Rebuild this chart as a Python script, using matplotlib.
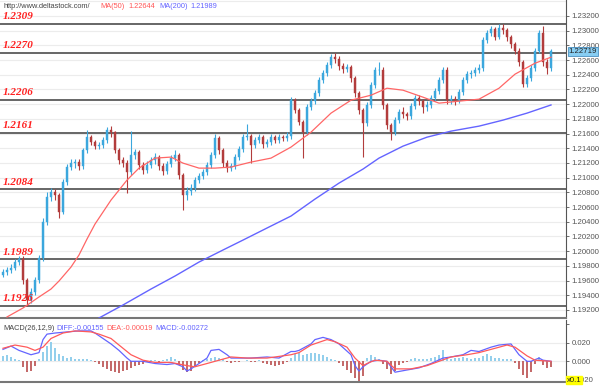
import numpy as np
import matplotlib
matplotlib.use("Agg")
import matplotlib.pyplot as plt

# candle closes / highs / lows (EUR/USD style quotes)
closes = [1.1972, 1.1974, 1.1977, 1.1985, 1.1990, 1.1961, 1.1934, 1.1945, 1.1961, 1.1991,
          1.2040, 1.2074, 1.2080, 1.2076, 1.2053, 1.2094, 1.2114, 1.2120, 1.2121, 1.2116,
          1.2137, 1.2155, 1.2148, 1.2143, 1.2144, 1.2151, 1.2165, 1.2162, 1.2137, 1.2124,
          1.2120, 1.2108, 1.2131, 1.2135, 1.2117, 1.2110, 1.2117, 1.2124, 1.2128, 1.2116,
          1.2109, 1.2118, 1.2127, 1.2131, 1.2103, 1.2076, 1.2082, 1.2086, 1.2097, 1.2102,
          1.2108, 1.2117, 1.2131, 1.2154, 1.2137, 1.2120, 1.2113, 1.2116, 1.2128, 1.2139,
          1.2155, 1.2157, 1.2144, 1.2151, 1.2155, 1.2146, 1.2148, 1.2155, 1.2151, 1.2155,
          1.2154, 1.2157, 1.2205, 1.2192, 1.2176, 1.2162, 1.2196, 1.2204, 1.2215, 1.2233,
          1.2242, 1.2253, 1.2264, 1.2262, 1.2252, 1.2248, 1.2250, 1.2235, 1.2215, 1.2192,
          1.2174, 1.2199, 1.2226, 1.2246, 1.2246, 1.2199, 1.2171, 1.2162, 1.2178, 1.2189,
          1.2186, 1.2184, 1.2197, 1.2208, 1.2204, 1.2196, 1.2199, 1.2208, 1.2218, 1.2233,
          1.2246, 1.2205, 1.2207, 1.2205, 1.2216, 1.2233, 1.2241, 1.2242, 1.2246, 1.2249,
          1.2287, 1.2297, 1.2302, 1.2292, 1.2303, 1.2301, 1.2291, 1.2282, 1.2273, 1.2257,
          1.2227, 1.2235, 1.2249, 1.2273, 1.2297, 1.2257, 1.2249, 1.22719]
highs = [1.1976, 1.1979, 1.1982, 1.1989, 1.1994, 1.1993, 1.1964, 1.1950, 1.1965, 1.1995,
         1.2045, 1.2080, 1.2086, 1.2085, 1.2079, 1.2098, 1.2118, 1.2125, 1.2126, 1.2125,
         1.2141, 1.2165, 1.2158, 1.2151, 1.2149, 1.2155, 1.2169, 1.2170, 1.2164, 1.2140,
         1.2128, 1.2124, 1.2164, 1.2139, 1.2138, 1.2121, 1.2122, 1.2128, 1.2133, 1.2131,
         1.2120, 1.2122, 1.2131, 1.2138, 1.2134, 1.2106, 1.2087, 1.2091, 1.2101, 1.2106,
         1.2112, 1.2121, 1.2135, 1.2160, 1.2157, 1.2140, 1.2124, 1.2120, 1.2132, 1.2143,
         1.2159, 1.2173, 1.2160, 1.2155, 1.2159, 1.2158, 1.2152, 1.2160, 1.2158, 1.2159,
         1.2158, 1.2162, 1.2210, 1.2208, 1.2195, 1.2179, 1.2200, 1.2208, 1.2219, 1.2237,
         1.2246, 1.2257, 1.2268, 1.2270, 1.2265, 1.2256, 1.2254, 1.2253, 1.2238, 1.2218,
         1.2195, 1.2203, 1.2230, 1.2250, 1.2258, 1.2250, 1.2202, 1.2175, 1.2182, 1.2193,
         1.2196, 1.2190, 1.2201, 1.2213, 1.2212, 1.2207, 1.2204, 1.2212, 1.2222, 1.2237,
         1.2250, 1.2250, 1.2212, 1.2211, 1.2220, 1.2237, 1.2245, 1.2247, 1.2250, 1.2254,
         1.2291, 1.2301, 1.2306, 1.2305, 1.2309, 1.2309, 1.2304, 1.2294, 1.2285, 1.2276,
         1.2260, 1.2239, 1.2253, 1.2277, 1.2301, 1.2307, 1.2261, 1.2275]
lows = [1.1965, 1.1968, 1.1970, 1.1974, 1.1981, 1.1956, 1.1926, 1.1929, 1.1941, 1.1957,
        1.1987, 1.2036, 1.2068, 1.2070, 1.2045, 1.2050, 1.2090, 1.2110, 1.2113, 1.2110,
        1.2112, 1.2133, 1.2144, 1.2139, 1.2139, 1.2140, 1.2147, 1.2156, 1.2133, 1.2119,
        1.2114, 1.2079, 1.2104, 1.2125, 1.2112, 1.2105, 1.2106, 1.2113, 1.2119, 1.2111,
        1.2104, 1.2105, 1.2114, 1.2123, 1.2098, 1.2056, 1.2070, 1.2077, 1.2082, 1.2093,
        1.2098, 1.2104, 1.2113, 1.2127, 1.2132, 1.2115, 1.2108, 1.2109, 1.2112, 1.2124,
        1.2135, 1.2151, 1.2120, 1.2140, 1.2147, 1.2141, 1.2142, 1.2144, 1.2147, 1.2147,
        1.2150, 1.2150, 1.2153, 1.2188, 1.2171, 1.2127, 1.2158, 1.2192, 1.2200, 1.2211,
        1.2229, 1.2238, 1.2249, 1.2256, 1.2247, 1.2243, 1.2244, 1.2230, 1.2210, 1.2187,
        1.2128, 1.2170, 1.2195, 1.2222, 1.2240, 1.2194, 1.2166, 1.2151, 1.2158, 1.2174,
        1.2181, 1.2178, 1.2180, 1.2193, 1.2199, 1.2188, 1.2191, 1.2195, 1.2204, 1.2214,
        1.2229, 1.2200, 1.2200, 1.2199, 1.2201, 1.2212, 1.2229, 1.2236, 1.2238, 1.2242,
        1.2245, 1.2283, 1.2293, 1.2287, 1.2288, 1.2296, 1.2286, 1.2277, 1.2268, 1.2252,
        1.2224, 1.2223, 1.2231, 1.2245, 1.2269, 1.2252, 1.2241, 1.2245]
first_open = 1.1968

# moving averages, read at selected candles
ma50_idx = [1, 5, 9, 12, 14, 17, 19, 21, 23, 25, 27, 29, 31, 34, 38, 42, 45, 49, 53, 57,
            62, 67, 72, 77, 82, 87, 92, 96, 100, 105, 109, 114, 119, 124, 128, 133, 137]
ma50 = [1.19105, 1.19227, 1.19377, 1.19485, 1.19594, 1.19784, 1.19948, 1.20165, 1.20369,
        1.20532, 1.20695, 1.20831, 1.20967, 1.21130, 1.21266, 1.21280, 1.21198, 1.21130,
        1.21130, 1.21144, 1.21212, 1.21266, 1.21416, 1.21619, 1.21878, 1.22054, 1.22122,
        1.22217, 1.22190, 1.22095, 1.22014, 1.22041, 1.22068, 1.22217, 1.22408, 1.22557,
        1.22639]
ma200_idx = [24, 30, 37, 43, 49, 55, 60, 66, 72, 78, 84, 90, 94, 100, 106, 112, 119, 125,
             131, 137]
ma200 = [1.19091, 1.19268, 1.19485, 1.19662, 1.19852, 1.20016, 1.20151, 1.20315, 1.20478,
         1.20709, 1.20926, 1.21117, 1.21266, 1.21429, 1.21551, 1.21633, 1.21701, 1.21783,
         1.21878, 1.21989]

levels = [1.2309, 1.2270, 1.2206, 1.2161, 1.2084, 1.1989, 1.1926]

# MACD panel
hist = [0.006, 0.007, 0.005, 0.003, 0.001, -0.006, -0.012, -0.010, -0.005, 0.002,
        0.010, 0.017, 0.021, 0.014, 0.008, 0.006, 0.004, 0.005, 0.003, 0.003,
        0.002, 0.002, 0.001, -0.001, -0.003, -0.006, -0.008, -0.010, -0.012, -0.013,
        -0.011, -0.009, -0.007, -0.005, -0.004, -0.003, -0.001, 0.001, 0.001, -0.001,
        0.001, 0.003, 0.005, 0.003, -0.004, -0.009, -0.012, -0.010, -0.006, -0.002,
        0.001, 0.003, 0.004, 0.005, 0.004, 0.002, -0.001, -0.002, -0.001, -0.001,
        0.0005, 0.001, -0.001, -0.001, 0.001, -0.002, -0.003, -0.004, -0.005, -0.004,
        -0.003, -0.001, 0.004, 0.008, 0.009, 0.007, 0.008, 0.009, 0.009, 0.008,
        0.007, 0.005, 0.003, 0.001, -0.002, -0.005, -0.009, -0.013, -0.018, -0.022,
        -0.016, 0.004, 0.007, 0.005, 0.002, -0.003, -0.008, -0.014, -0.010, -0.004,
        -0.002, -0.001, 0.002, 0.004, 0.003, 0.002, 0.003, 0.004, 0.005, 0.007,
        0.012, 0.004, 0.003, 0.004, 0.004, 0.005, 0.004, 0.003, 0.004, 0.004,
        0.006, 0.008, 0.006, 0.004, 0.004, 0.003, 0.003, 0.002, -0.002, -0.008,
        -0.015, -0.018, -0.012, -0.003, 0.005, -0.004, -0.007, -0.006]
diff_idx = [0, 2, 4, 7, 9, 10, 11, 13, 16, 19, 22, 23, 25, 27, 29, 31, 32, 35, 38, 41,
            43, 45, 46, 47, 49, 51, 52, 54, 56, 57, 60, 62, 66, 69, 72, 73, 74, 77, 78, 80,
            82, 84, 87, 88, 89, 90, 92, 94, 96, 97, 98, 101, 104, 107, 110, 112, 115, 117,
            119, 122, 124, 127, 129, 131, 132, 134, 135, 137]
diff = [0.0129, 0.0165, 0.0118, 0.0071, 0.0094, 0.0235, 0.0294, 0.0306, 0.0318, 0.0329,
        0.0329, 0.0306, 0.0247, 0.0188, 0.0118, 0.0035, 0.0, 0.0, -0.0024, -0.0035,
        -0.0024, -0.0059, -0.0106, -0.0082, -0.0024, 0.0035, 0.0118, 0.0129, 0.0071, 0.0035,
        0.0035, 0.0035, 0.0047, 0.0035, 0.0106, 0.0106, 0.0118, 0.0188, 0.0235, 0.0259,
        0.0235, 0.0188, 0.0071, -0.0047, -0.0106, -0.0059, 0.0, 0.0012, 0.0, -0.0059,
        -0.0118, -0.0094, -0.0071, -0.0024, 0.0035, 0.0047, 0.0071, 0.0118, 0.0106, 0.0153,
        0.0176, 0.0188, 0.0071, 0.0, 0.0, 0.0035, 0.0012, 0.0]
dea_idx = [0, 3, 6, 8, 10, 12, 15, 18, 22, 24, 27, 29, 32, 35, 38, 42, 46, 48, 51, 54,
           57, 61, 66, 70, 72, 74, 77, 81, 83, 86, 88, 90, 91, 93, 96, 98, 102, 106, 109,
           112, 116, 119, 122, 126, 128, 131, 133, 137]
dea = [0.0141, 0.0176, 0.0153, 0.0118, 0.0153, 0.0247, 0.0306, 0.0329, 0.0318, 0.0294,
       0.0247, 0.0176, 0.0071, 0.0012, -0.0012, -0.0012, -0.0047, -0.0059, -0.0024, 0.0012,
       0.0047, 0.0035, 0.0035, 0.0059, 0.0071, 0.0094, 0.0176, 0.0235, 0.0212, 0.0153,
       0.0035, -0.0047, -0.0024, 0.0012, 0.0, -0.0082, -0.0082, -0.0047, 0.0,
       0.0047, 0.0071, 0.0094, 0.0129, 0.0176, 0.0153, 0.0059, 0.0012, 0.0]

UP = "#3ba7dd"
DOWN = "#b23c3c"
GRID = "#ececec"
AXC = "#555555"
FONT = "Liberation Sans"

n = len(closes)
x = np.arange(n)
opens = [first_open] + closes[:-1]

fig = plt.figure(figsize=(6, 3.9), dpi=100)
W, H = 600.0, 390.0

ax = fig.add_axes([0, 1 - 318 / H, 566 / W, 318 / H])
mx = fig.add_axes([0, 1 - 382 / H, 566 / W, 62 / H])

# --- price chart
for lv in np.arange(1.188, 1.236, 0.002):
    ax.axhline(lv, color=GRID, lw=0.8, zorder=0)

for i in range(n):
    c = UP if closes[i] >= opens[i] else DOWN
    ax.vlines(x[i], lows[i], highs[i], color=c, lw=0.8, zorder=2)
    lo, hi = min(opens[i], closes[i]), max(opens[i], closes[i])
    ax.bar(x[i], max(hi - lo, 0.00004), bottom=lo, width=0.6, color=c,
           edgecolor=c, linewidth=0.3, zorder=3)

ax.plot(ma50_idx, ma50, color="#ff6666", lw=0.9, zorder=4)
ax.plot(ma200_idx, ma200, color="#6464ff", lw=1.0, zorder=4)

for lv in levels:
    ax.axhline(lv, color="#5a5a5a", lw=1.3, zorder=1)
    ax.text(0.004, lv + 0.00035, "%.4f" % lv, transform=ax.get_yaxis_transform(),
            color="#ff2020", fontsize=8, fontweight="bold", fontstyle="italic",
            family="Liberation Serif", va="bottom", ha="left", zorder=5)

ax.set_xlim(-0.75, 140.75)
ax.set_ylim(1.19091, 1.23417)
ax.set_xticks([])
ax.yaxis.tick_right()
ticks = np.arange(1.192, 1.2321, 0.002)
ax.set_yticks(ticks)
ax.set_yticklabels(["%.5f" % v for v in ticks], family=FONT)
ax.tick_params(axis="y", colors=AXC, labelsize=5.6, length=2.5, width=0.6, pad=1.5)
for s in ["top", "left"]:
    ax.spines[s].set_visible(False)
ax.spines["right"].set_color(AXC)
ax.spines["bottom"].set_color("#777777")
ax.spines["bottom"].set_linewidth(1.5)

# current price box
ax.annotate("1.22719", xy=(1.0, closes[-1]), xycoords=ax.get_yaxis_transform(),
            xytext=(2, 0), textcoords="offset points", fontsize=5.6, color="#222222",
            family=FONT, va="center", ha="left", annotation_clip=False,
            bbox=dict(boxstyle="square,pad=0.15", fc="#87cdf2", ec="#4a90c0", lw=0.6))

# --- MACD panel
mx.axhline(0.0, color=GRID, lw=0.8, zorder=0)
mx.axhline(0.02, color=GRID, lw=0.8, zorder=0)
hcol = ["#93cfec" if h >= 0 else "#c46a6a" for h in hist]
mx.bar(x, hist, width=0.35, color=hcol, zorder=2)
mx.plot(diff_idx, diff, color="#6464ff", lw=0.9, zorder=3)
mx.plot(dea_idx, dea, color="#ff5a5a", lw=0.9, zorder=3)
mx.set_xlim(-0.75, 140.75)
mx.set_ylim(-0.0224, 0.0447)
mx.set_xticks([])
mx.yaxis.tick_right()
mx.set_yticks([-0.02, 0.0, 0.02, 0.04])
mx.set_yticklabels(["-0.020", "0.000", "0.020", ""], family=FONT)
mx.tick_params(axis="y", colors=AXC, labelsize=5.6, length=2.5, width=0.6, pad=1.5)
for s in ["top", "left"]:
    mx.spines[s].set_visible(False)
mx.spines["right"].set_color(AXC)
mx.spines["bottom"].set_color("#777777")
mx.spines["bottom"].set_linewidth(1.5)

# yellow scale box over the lowest MACD label
fig.text(567 / W, 1 - 380 / H, "x0.1", fontsize=5.6, color="#222222", va="center",
         ha="left", family=FONT, zorder=10,
         bbox=dict(boxstyle="square,pad=0.1", fc="#ffff00", ec="#ffff00"))

# header texts
def head(px, py, s, c):
    fig.text(px / W, 1 - py / H, s, fontsize=5.3, color=c, va="center", ha="left",
             family=FONT)

head(3, 7, "http://www.deltastock.com/", "#444444")
head(100, 7, "MA(50)", "#ff5555")
head(128, 7, "1.22644", "#ff5555")
head(159, 7, "MA(200)", "#6464ff")
head(190, 7, "1.21989", "#6464ff")

head(3, 329, "MACD(26,12,9)", "#444444")
head(56, 329, "DIFF:-0.00155", "#6464ff")
head(106, 329, "DEA:-0.00019", "#ff5a5a")
head(155, 329, "MACD:-0.00272", "#6464ff")

fig.savefig("out.png", dpi=100, facecolor="white")
